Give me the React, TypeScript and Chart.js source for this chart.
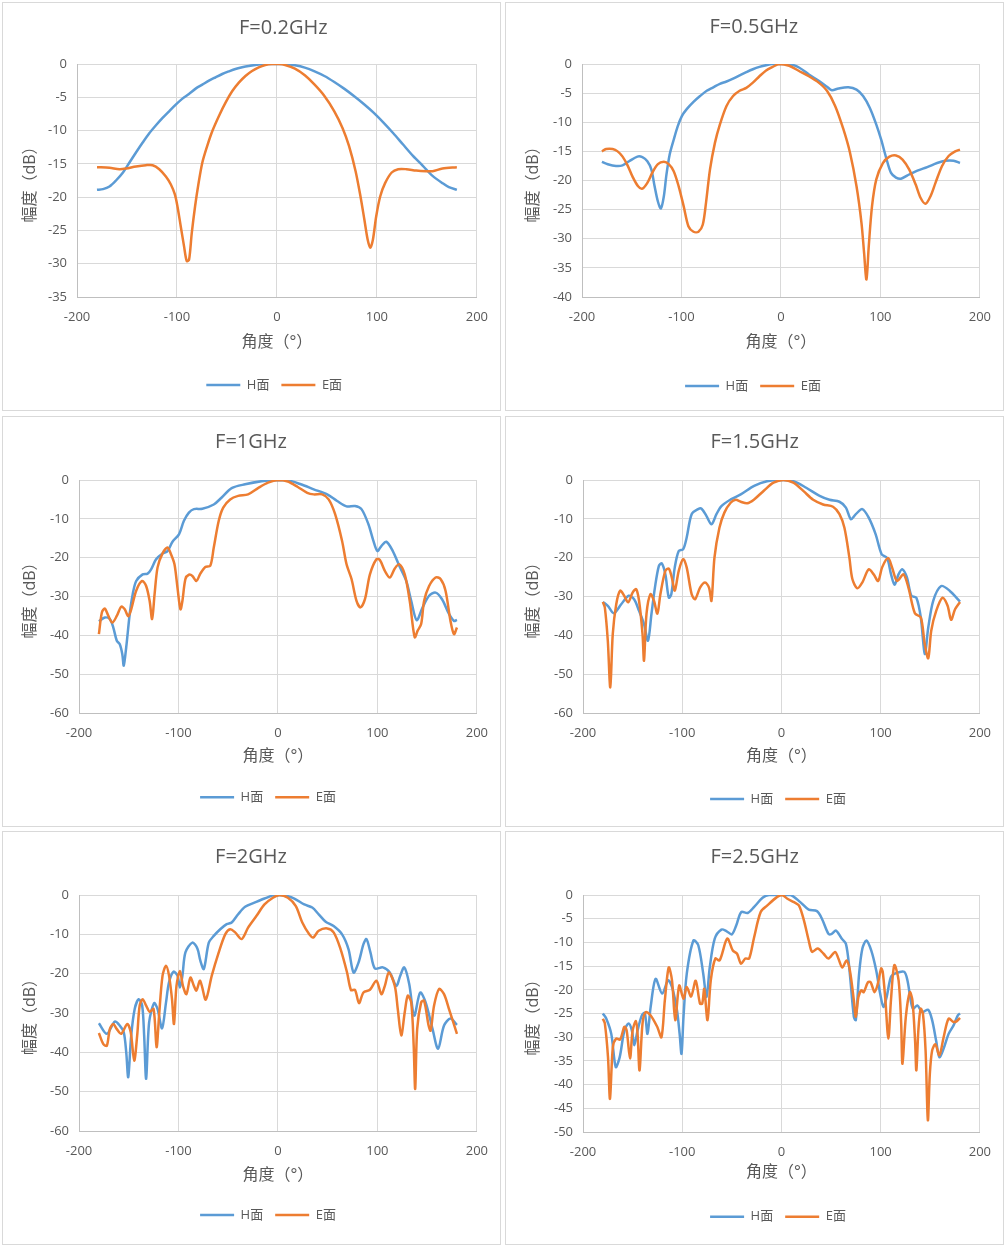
import { useEffect, useRef } from "react"
import { Chart, registerables } from "chart.js"

Chart.register(...registerables)

Chart.defaults.font.family = '"Open Sans", "Noto Sans CJK SC", sans-serif'

type Pt = [number, number]

// F = 0.2 GHz
const h02: Pt[] = [
  [-180, -18.9], [-174, -18.8], [-167.5, -18.4], [-161, -17.5], [-154, -16.3], [-147.5, -14.8],
  [-141, -13.3], [-134.3, -11.8], [-127.7, -10.4], [-121, -9.2], [-114.4, -8.1], [-107.8, -7.1],
  [-101.2, -6.1], [-94.5, -5.2], [-88, -4.5], [-81.3, -3.7], [-74.6, -3.1], [-68, -2.5],
  [-61.4, -2.0], [-54.7, -1.5], [-48, -1.1], [-41.5, -0.75], [-34.8, -0.5], [-28.2, -0.3],
  [-21.6, -0.15], [-15, -0.05], [-8, 0], [0, 0], [8, 0], [18, -0.2], [27.9, -0.55],
  [37.7, -1.1], [47.5, -1.8], [57.4, -2.7], [67.2, -3.7], [77, -4.8], [86.9, -6.0],
  [96.7, -7.3], [106.6, -8.8], [116.4, -10.4], [126.2, -12.1], [136.1, -13.8], [146, -15.3],
  [155.7, -16.8], [165.6, -17.9], [172, -18.5], [180, -18.9],
]
const e02: Pt[] = [
  [-180, -15.5], [-167.5, -15.6], [-157.5, -15.8], [-151, -15.7], [-141, -15.4], [-131, -15.2],
  [-124.4, -15.2], [-117.7, -15.8], [-111.1, -16.9], [-106.1, -18.1], [-102.1, -19.6],
  [-99.5, -21.4], [-96.2, -24.4], [-92.9, -27.4], [-90.2, -29.6], [-87.9, -29.4],
  [-85.2, -25.4], [-81.9, -21.4], [-78.6, -18.1], [-74.6, -14.8], [-69.7, -12.3],
  [-64.7, -10.1], [-58, -7.8], [-51.4, -5.8], [-44.8, -4.1], [-38.1, -2.8], [-31.5, -1.8],
  [-24.9, -1.05], [-18.2, -0.5], [-11.6, -0.15], [-5, 0], [2, 0], [8.2, -0.15], [18, -0.7],
  [27.9, -1.7], [37.7, -3.1], [47.5, -4.8], [57.4, -7.1], [65.6, -9.6], [72.1, -12.3],
  [78.7, -16.1], [83.6, -19.9], [87.5, -23.4], [90.8, -26.4], [93.4, -27.6], [96, -26.4],
  [99.3, -22.9], [103.3, -19.9], [108.2, -17.9], [114.8, -16.3], [121.3, -15.8],
  [129.5, -15.8], [139.3, -16.0], [149.2, -16.1], [155.7, -16.1], [165.6, -15.7], [180, -15.5],
]

// F = 0.5 GHz
const h05: Pt[] = [
  [-180, -16.8], [-174.1, -17.2], [-165.8, -17.5], [-159.2, -17.4], [-152.6, -16.7],
  [-144.3, -15.9], [-139.3, -16.0], [-134.3, -16.7], [-130.3, -18.1], [-127, -21.0],
  [-123.7, -23.6], [-120.7, -24.8], [-117.7, -22.7], [-115.1, -19.0], [-111.8, -15.5],
  [-107.8, -13.0], [-103.8, -10.7], [-99.5, -8.9], [-94.5, -7.7], [-87.9, -6.5], [-81.3, -5.5],
  [-74.6, -4.6], [-68, -4.0], [-61.4, -3.4], [-54.7, -3.0], [-48.1, -2.5], [-41.5, -1.95],
  [-34.8, -1.4], [-28.2, -0.9], [-21.6, -0.5], [-14.9, -0.2], [-8.3, 0], [0, 0], [8.3, 0],
  [18.2, -0.6], [28.1, -1.8], [38, -2.9], [46.3, -3.9], [51.2, -4.5], [57.9, -4.2],
  [67.8, -4.0], [76, -4.4], [82.6, -5.5], [89.3, -7.5], [95.9, -10.4], [100.8, -13.0],
  [105.8, -16.1], [110.7, -18.7], [115.7, -19.5], [120.7, -19.7], [127.3, -19.1],
  [137.2, -18.3], [147.1, -17.7], [157, -17.0], [165.3, -16.6], [173.6, -16.6], [180, -17.0],
]
const e05: Pt[] = [
  [-180, -15.0], [-175.8, -14.6], [-169.2, -14.6], [-164.2, -15.0], [-159.2, -15.9],
  [-154.2, -17.4], [-149.3, -19.3], [-143.6, -21.0], [-139.3, -21.4], [-134.3, -20.4],
  [-129.4, -18.7], [-123.7, -17.2], [-117.7, -16.8], [-112.8, -17.2], [-107.8, -18.4],
  [-102.8, -21.0], [-97.8, -24.4], [-92.9, -27.9], [-87.9, -28.8], [-82.9, -28.8],
  [-78.6, -27.6], [-75.3, -23.8], [-71.3, -18.1], [-66.3, -13.5], [-61.4, -10.4],
  [-54.7, -7.2], [-48.1, -5.5], [-41.5, -4.6], [-34.8, -4.1], [-28.2, -3.2], [-21.6, -2.1],
  [-14.9, -1.1], [-8.3, -0.5], [-1.7, 0], [8.3, -0.3], [18.2, -1.2], [28.1, -2.1], [38, -3.2],
  [46.3, -4.6], [54.5, -7.2], [62.8, -11.2], [69.4, -15.2], [76, -21.0], [81, -27.3],
  [83.6, -32.4], [86, -37.0], [88.3, -31.3], [91.6, -24.4], [95.9, -19.8], [102.5, -17.0],
  [109.1, -15.9], [115.7, -15.7], [122.3, -16.4], [128.9, -18.1], [135.5, -20.7],
  [140.5, -23.0], [145.5, -24.0], [150.4, -22.7], [155.4, -20.4], [162, -17.5],
  [168.6, -15.8], [175.2, -15.0], [180, -14.7],
]

// F = 1 GHz
const h10: Pt[] = [
  [-180, -36.4], [-174, -35.4], [-169, -35.8], [-165.5, -38], [-162, -41.4], [-159, -42.3],
  [-156.5, -44.8], [-155, -47.8], [-152.5, -43], [-149, -34.5], [-146, -29.4], [-142.5, -26],
  [-136, -24.3], [-131, -24.1], [-127.5, -23], [-122.5, -20.4], [-116, -18.9], [-111, -18.3],
  [-106, -15.9], [-99.5, -14], [-94.5, -10.5], [-89.5, -8.4], [-84.5, -7.5], [-76, -7.4],
  [-64.5, -6.3], [-56.5, -4.5], [-46.5, -2.1], [-33, -1.1], [-16.5, -0.3], [-3.5, 0],
  [10, -0.1], [23, -1.1], [36, -2.4], [49.5, -3.7], [59.5, -5.4], [69, -6.8], [77.5, -6.7],
  [84, -7.5], [91, -11.4], [96, -15.7], [100, -18.3], [104, -17], [109, -15.9], [115.5, -18.3],
  [122, -22.1], [129, -26], [134, -31.1], [139.5, -36.1], [145.5, -32.8], [152, -29.8],
  [158.5, -29], [165, -30.7], [172, -34.5], [177, -36.3], [180, -36],
]
const e10: Pt[] = [
  [-180, -39.7], [-177, -34.1], [-174, -33.1], [-170.5, -35], [-166.5, -36.7], [-162, -35],
  [-157.5, -32.6], [-154, -33.3], [-150.5, -35.1], [-147.5, -33.3], [-142.5, -28.5],
  [-136.5, -26], [-132.5, -27.3], [-129, -31.1], [-126.5, -35.8], [-124, -29.4], [-121, -22.5],
  [-116, -18.9], [-111, -17.4], [-107.5, -19.1], [-104, -21.7], [-101, -27.7], [-98, -33.3],
  [-96, -31.1], [-93, -25.5], [-89.5, -24.4], [-86, -24.7], [-82, -26], [-78, -24.1],
  [-73, -22.4], [-68, -22.1], [-64.5, -17.4], [-59.5, -10.5], [-55, -7.1], [-48, -5],
  [-40, -4.1], [-30, -3.7], [-20, -2.1], [-10, -0.7], [0, 0], [10, -0.4], [20, -1.8],
  [29.5, -3.3], [36, -3.7], [44.5, -3.7], [51, -5], [57.5, -8.8], [64.5, -15.7], [69, -21.7],
  [74, -25.5], [79, -31.1], [83, -32.8], [87.5, -30.7], [92.5, -24.3], [99, -20.4],
  [102.5, -20.6], [107.5, -23.4], [112.5, -25.1], [117.5, -22.8], [122, -21.7], [127.5, -24.3],
  [132.5, -31.1], [137.5, -40.5], [140.5, -38.8], [144, -37.1], [147, -31.1], [152, -27.3],
  [158.5, -25.1], [163.5, -25.5], [168.5, -28.5], [173.5, -36.3], [177, -39.7], [180, -38],
]

// F = 1.5 GHz
const h15: Pt[] = [
  [-180, -31.4], [-175, -32.4], [-169, -34.3], [-161.5, -32], [-154, -29.8], [-148.5, -30.7],
  [-143.5, -33.7], [-138.5, -37.1], [-134.5, -41.4], [-131, -34.5], [-127.5, -27.7],
  [-123.5, -22.1], [-120.5, -21.5], [-117, -24.3], [-113.5, -30.3], [-111, -29.4],
  [-107.5, -22.5], [-103.5, -18.3], [-99, -17.8], [-95.5, -14.8], [-90.5, -8.8], [-84, -7.5],
  [-80.5, -7.4], [-75.5, -9.3], [-70.5, -11.4], [-65.5, -8.8], [-60.5, -6.7], [-51, -5],
  [-41, -3.7], [-27.5, -1.5], [-14.5, -0.3], [-1, 0], [12, -0.3], [25, -2], [38.5, -4.1],
  [48.5, -5.1], [58.5, -5.6], [65, -7.1], [70, -10.1], [75, -8.8], [81.5, -7.5], [88, -9.7],
  [95, -14], [101, -19.1], [106.5, -20.1], [110.5, -24.3], [114, -27], [118, -24.3], [122, -23],
  [126.5, -25.1], [131, -29.8], [136, -30.3], [140.5, -35.4], [144.5, -44.8], [148, -38],
  [153, -31.1], [161, -27.3], [169.5, -28.5], [180, -31.3],
]
const e15: Pt[] = [
  [-180, -31.4], [-178, -32.8], [-175, -41.4], [-172.5, -53.4], [-170, -39.7], [-166.5, -32],
  [-162.5, -28.5], [-158.5, -29.8], [-154.5, -31.5], [-150, -29], [-146.5, -28.1],
  [-143.5, -31.1], [-140, -39.7], [-138.5, -46.5], [-136, -34.5], [-132, -29.4],
  [-128.5, -31.1], [-125, -34.4], [-122, -29.4], [-117, -23.4], [-113.5, -22.8],
  [-110.5, -25.1], [-107.5, -28.5], [-103.5, -23.4], [-99, -20.4], [-95.5, -22.5],
  [-90.5, -29.4], [-87, -30.7], [-82, -27.7], [-77, -26.4], [-73, -27.7], [-70.5, -31.1],
  [-67.5, -20], [-62.5, -12.3], [-57.5, -8.4], [-51, -5.8], [-46, -5.1], [-41, -5.6],
  [-34.5, -6], [-27.5, -5], [-17.5, -2.7], [-8, -0.7], [2, 0], [12, -0.7], [22, -2.8],
  [32, -5.1], [42, -6.3], [52, -6.9], [58.5, -8.8], [63.5, -12.3], [68.5, -20], [71.5, -25.5],
  [76.5, -27.9], [81.5, -26.4], [88, -23], [93, -24.3], [97.5, -26], [101.5, -22.5],
  [107.5, -20.1], [111.5, -22.5], [116.5, -26], [123, -24.3], [128, -27.7], [134.5, -34.3],
  [140.5, -35.4], [144.5, -42.3], [148, -45.9], [151, -38.8], [156, -33.7], [162.5, -30.3],
  [167.5, -32.4], [171, -36], [175, -33.3], [180, -31.4],
]

// F = 2 GHz
const h20: Pt[] = [
  [-180, -32.6], [-172, -35.3], [-164, -32.2], [-159, -33.2], [-155, -34.9], [-152.5, -40],
  [-150.5, -46.3], [-147.5, -35.7], [-144, -29], [-140, -26.5], [-136.5, -28.1],
  [-134.5, -35.7], [-132.5, -46.7], [-129.5, -32.4], [-124.5, -27.5], [-121, -29],
  [-116.5, -33.9], [-112.5, -27.3], [-109.5, -22.2], [-105, -19.5], [-101, -20.5],
  [-98.5, -23.5], [-96, -20.5], [-93, -14.6], [-86, -12.1], [-81, -13.6], [-78, -16.7],
  [-74.5, -18.8], [-69.5, -12.1], [-64.5, -10.4], [-58, -8.7], [-51.5, -7.4], [-46.5, -7],
  [-40, -4.9], [-33, -3], [-23, -1.9], [-13.5, -0.9], [-3.5, 0], [6.5, -0.1], [16.5, -0.9],
  [26.5, -2.4], [34.5, -3.2], [41, -4.9], [48, -6.8], [56, -7.9], [64.5, -10], [71, -13.8],
  [76, -19.7], [81, -17.2], [86, -12.5], [89, -11.2], [93, -14.6], [97.5, -18.7],
  [105.5, -18.4], [112.5, -19.7], [119, -23.1], [123, -20.5], [127, -18.4], [132, -22.6],
  [137, -30.7], [143, -24.8], [148.5, -27.3], [155.5, -34.1], [161, -39.1], [167, -33.2],
  [173.5, -31.4], [180, -33],
]
const e20: Pt[] = [
  [-180, -35.1], [-175.5, -37.9], [-172, -38.3], [-169, -34.1], [-165.5, -32.8], [-162, -34.1],
  [-157.5, -35.3], [-151.5, -32.8], [-148, -34.9], [-144.5, -42.1], [-141.5, -35.7],
  [-139, -28.1], [-136, -26.5], [-132.5, -28.1], [-129, -29.7], [-125, -29], [-122, -38.7],
  [-119.5, -30.7], [-116, -20.5], [-112.5, -18], [-109.5, -20.5], [-106.5, -26.5],
  [-104.5, -32.8], [-102, -23.1], [-98.5, -19.3], [-95.5, -23.1], [-92, -25.2], [-88, -21],
  [-84.5, -23.1], [-82, -24.3], [-78.5, -21.8], [-76.5, -23.1], [-72.5, -26.6], [-66.5, -20.5],
  [-59.5, -14.6], [-53, -10], [-48, -8.7], [-43, -9.5], [-36.5, -11.2], [-30, -8.3],
  [-21.5, -5.3], [-13.5, -2.4], [-5, -0.7], [1.5, 0], [10, -0.7], [18, -2.8], [24.5, -7],
  [31.5, -10], [35.5, -10.8], [41, -9.1], [49.5, -8.5], [56, -9.5], [62.5, -13.4],
  [69.5, -19.7], [73.5, -24.2], [77.5, -24.1], [81.5, -27.5], [86, -24.8], [92.5, -24.1],
  [99, -21.8], [104, -25.2], [107.5, -23.1], [111.5, -19.7], [117.5, -23.1], [120.5, -29],
  [124, -35.7], [127.5, -29.8], [130.5, -25.6], [134, -27.3], [136.5, -38.3], [138, -49.3],
  [140, -34.1], [144, -27.3], [147, -26.9], [151.5, -33.2], [153.5, -34.5], [157, -28.1],
  [162, -23.9], [167, -25.2], [172, -29], [180, -35.3],
]

// F = 2.5 GHz
const h25: Pt[] = [
  [-180, -25], [-176.5, -26.1], [-171.5, -29.3], [-167, -36.3], [-163, -34.2], [-158.3, -28.6],
  [-154, -27.1], [-150.7, -28.6], [-148.3, -31.7], [-145, -28.6], [-140.7, -25.4],
  [-137.7, -24.9], [-135, -29.3], [-131.8, -23.6], [-126.8, -17.7], [-120.2, -20.8],
  [-114.2, -18], [-110.3, -19.4], [-105.3, -24.3], [-102.6, -29.3], [-100.7, -33.5],
  [-98.7, -25.7], [-95.4, -16.6], [-88.7, -9.6], [-83.8, -10.6], [-78.8, -16.6],
  [-75.5, -21.5], [-72.2, -15.2], [-67.2, -9.2], [-60.5, -7.3], [-55.5, -7.6], [-50, -8.3],
  [-45.5, -6.4], [-40.5, -3.6], [-34, -3.8], [-27.5, -2.5], [-19, -0.6], [-12.5, 0], [9, 0],
  [19, -1.5], [27.5, -3.1], [35.8, -3.4], [40.8, -5], [47.4, -8.2], [50.7, -8.2], [55, -7.5],
  [60.7, -9.2], [65, -10.3], [68.3, -15.2], [73, -25.7], [75, -26.4], [78.3, -16.6],
  [81.6, -11.3], [85.6, -9.6], [90.5, -11.7], [95.5, -15.9], [99.5, -20.8], [102.8, -23.6],
  [106.1, -21.5], [110.4, -17.3], [115.4, -16.5], [123.7, -16.2], [127, -18], [130.3, -22.2],
  [132.7, -24], [137, -23.3], [142, -24.7], [147.9, -24.2], [151.9, -26.4], [155.9, -30.7],
  [159.2, -34.2], [163.5, -32.4], [168.5, -29.3], [173.5, -27.5], [177.8, -25.4], [180, -25],
]
const e25: Pt[] = [
  [-180, -26.1], [-178, -27.1], [-174.8, -34.2], [-172.8, -43], [-169.9, -32.1],
  [-166.6, -30.3], [-162.6, -30.5], [-158.3, -27.8], [-156, -28.6], [-152.6, -34.5],
  [-150, -28.6], [-146.7, -26.6], [-145, -29.3], [-143, -37], [-140, -27.1], [-136.8, -24.7],
  [-131.8, -25.4], [-125.2, -27.8], [-120.9, -30], [-117.5, -22.2], [-113.6, -15.3],
  [-110.3, -18], [-107, -26.4], [-103, -19.1], [-98.7, -21.9], [-95.4, -19.4], [-91.1, -21.4],
  [-86.4, -18.1], [-82.1, -22.9], [-79.8, -22.9], [-77.8, -19.8], [-74.5, -26.4],
  [-71.2, -18], [-66.6, -13.4], [-62.3, -13.8], [-54.6, -9.2], [-49, -11.7], [-44.7, -12.4],
  [-40.7, -14.5], [-36.4, -13.4], [-32.5, -13.4], [-27.5, -8.9], [-20.9, -3.6],
  [-14.2, -2.2], [-4.3, -0.4], [0.7, 0], [6, -0.8], [12.6, -1.5], [17.6, -2.2], [22.6, -5.3],
  [27.5, -9.6], [30.9, -12], [36.5, -11.3], [42.5, -12.4], [47.4, -13.4], [54.1, -12],
  [57.4, -13.4], [61.4, -15.3], [65.7, -13.8], [69, -15.9], [73, -22.2], [75, -25.7],
  [77.6, -21.5], [80.6, -20.1], [82.9, -20.5], [87.2, -18.4], [89.9, -18.4], [93.9, -20.5],
  [97.2, -18.7], [100.5, -15.5], [102.1, -16.2], [104.8, -22.2], [107.8, -30.3],
  [110.4, -22.2], [113.8, -14.8], [118.1, -18], [120.7, -27.1], [122, -35.6], [125.4, -25.7],
  [129.4, -20.5], [132, -22.2], [134.7, -30.7], [136, -37], [138, -28.6], [140.3, -24],
  [142.6, -25], [145.3, -32.8], [147.6, -47.5], [149.6, -37.7], [151.9, -32.8],
  [155.2, -31.5], [159.2, -33.8], [163.5, -30], [168.5, -26.1], [173.5, -26.8],
  [176.8, -26.6], [180, -25.9],
]

const titles = ["F=0.2GHz", "F=0.5GHz", "F=1GHz", "F=1.5GHz", "F=2GHz", "F=2.5GHz"]
const hSeries = [h02, h05, h10, h15, h20, h25]
const eSeries = [e02, e05, e10, e15, e20, e25]
const yMins = [-35, -40, -60, -60, -60, -50]
const ySteps = [5, 5, 10, 10, 10, 5]
const xTicks = { min: -200, max: 200, step: 100 }
const seriesNames = ["H面", "E面"]

// panel boxes, plot-area edges and text centres (canvas coordinates)
const layouts = [
  { left: 2, top: 2, w: 499, h: 409, pl: 74, pr: 477, pt: 61, pb: 294, tc: 24.8, xc: 339, lc: 382, tx: 280.3, lx: 271.2 },
  { left: 505, top: 2, w: 499, h: 409, pl: 76, pr: 479, pt: 61, pb: 294, tc: 24.5, xc: 339, lc: 383, tx: 247.8, lx: 247 },
  { left: 2, top: 416, w: 499, h: 411, pl: 76, pr: 479, pt: 63, pb: 296, tc: 25.3, xc: 339.7, lc: 380.3, tx: 248, lx: 265 },
  { left: 505, top: 416, w: 499, h: 411, pl: 77, pr: 480, pt: 63, pb: 296, tc: 25.3, xc: 339, lc: 382, tx: 248.7, lx: 272 },
  { left: 2, top: 831, w: 499, h: 414, pl: 76, pr: 479, pt: 63, pb: 299, tc: 25.3, xc: 343.3, lc: 383, tx: 248, lx: 265 },
  { left: 505, top: 831, w: 499, h: 414, pl: 77, pr: 480, pt: 63, pb: 300, tc: 25.3, xc: 340.7, lc: 384.7, tx: 248.7, lx: 272 },
]

const TEXT = "#595959"
const GRID = "#d9d9d9"
const BLUE = "#5b9bd5"
const ORANGE = "#ed7d31"

function Panel({ index }: { index: number }) {
  const canvasRef = useRef<HTMLCanvasElement>(null)
  const g = layouts[index]
  const cw = g.w - 2
  const ch = g.h - 2

  useEffect(() => {
    if (!canvasRef.current) return

    const titleSize = 20
    const axisTitleSize = 16
    const tickSize = 13
    const legendSize = 13
    const legendPad = 12
    const padRight = cw - g.pr
    const xAxisH = g.lc - g.pb - (legendPad + legendSize / 2)
    const legendH = legendSize + legendPad + 10
    const padBottom = ch - g.pb - xAxisH - legendH

    const toXY = (pts: Pt[]) => pts.map(([x, y]) => ({ x, y }))

    // Excel centres the title and legend on its own spots, not on the canvas
    const placeBoxes = {
      id: "placeBoxes",
      afterLayout(chart: any) {
        const t = chart.titleBlock
        if (t) {
          const d = g.tx - (t.left + t.right) / 2
          t.left += d
          t.right += d
        }
        const l = chart.legend
        if (l) {
          const d = g.lx - (l.left + l.right) / 2
          l.left += d
          l.right += d
        }
      },
    }

    const chart = new Chart(canvasRef.current, {
      type: "line",
      data: {
        datasets: [
          {
            label: seriesNames[0],
            data: toXY(hSeries[index]),
            borderColor: BLUE,
            backgroundColor: BLUE,
            borderWidth: 2.5,
            pointRadius: 0,
            tension: 0.3,
            order: 1,
          },
          {
            label: seriesNames[1],
            data: toXY(eSeries[index]),
            borderColor: ORANGE,
            backgroundColor: ORANGE,
            borderWidth: 2.5,
            pointRadius: 0,
            tension: 0.3,
            order: 0,
          },
        ],
      },
      options: {
        responsive: false,
        animation: false,
        layout: { padding: { left: 0, right: padRight, top: 0, bottom: padBottom } },
        scales: {
          x: {
            type: "linear",
            min: xTicks.min,
            max: xTicks.max,
            ticks: { stepSize: xTicks.step, color: TEXT, font: { size: tickSize }, padding: 12 },
            grid: { color: GRID, drawTicks: false },
            border: { color: "#bfbfbf" },
            title: {
              display: true,
              text: "角度（°）",
              color: TEXT,
              font: { size: axisTitleSize },
              padding: { top: 0, bottom: g.pb + xAxisH - axisTitleSize * 0.6 - g.xc },
            },
            afterFit: (s) => {
              s.height = xAxisH
            },
          },
          y: {
            type: "linear",
            min: yMins[index],
            max: 0,
            ticks: { stepSize: ySteps[index], color: TEXT, font: { size: tickSize }, padding: 10 },
            grid: { color: GRID, drawTicks: false },
            border: { color: "#bfbfbf" },
            title: {
              display: true,
              text: "幅度（dB）",
              color: TEXT,
              font: { size: axisTitleSize },
              padding: { top: 27.5 - axisTitleSize * 0.6, bottom: 0 },
            },
            afterFit: (s) => {
              s.width = g.pl
            },
          },
        },
        plugins: {
          title: {
            display: true,
            text: titles[index],
            color: TEXT,
            font: { size: titleSize, weight: "normal" },
            padding: {
              top: g.tc - titleSize * 0.6,
              bottom: g.pt - g.tc - titleSize * 0.6,
            },
          },
          legend: {
            position: "bottom",
            labels: {
              usePointStyle: true,
              pointStyle: "line",
              pointStyleWidth: 34,
              color: TEXT,
              font: { size: legendSize },
              padding: legendPad,
              sort: (a, b) => (a.datasetIndex ?? 0) - (b.datasetIndex ?? 0),
            },
          },
          tooltip: { enabled: false },
        },
      },
      plugins: [placeBoxes],
    })

    return () => {
      chart.destroy()
    }
  }, [index])

  return (
    <div
      style={{
        position: "absolute",
        left: g.left,
        top: g.top,
        width: g.w,
        height: g.h,
        boxSizing: "border-box",
        border: "1px solid #d9d9d9",
        background: "#fff",
      }}
    >
      <canvas ref={canvasRef} width={cw} height={ch} style={{ display: "block", width: cw, height: ch }} />
    </div>
  )
}

export default function App() {
  return (
    <div
      style={{
        position: "absolute",
        left: 0,
        top: 0,
        width: 1006,
        height: 1245,
        background: "#fff",
        overflow: "hidden",
      }}
    >
      {layouts.map((_, i) => (
        <Panel key={i} index={i} />
      ))}
    </div>
  )
}
